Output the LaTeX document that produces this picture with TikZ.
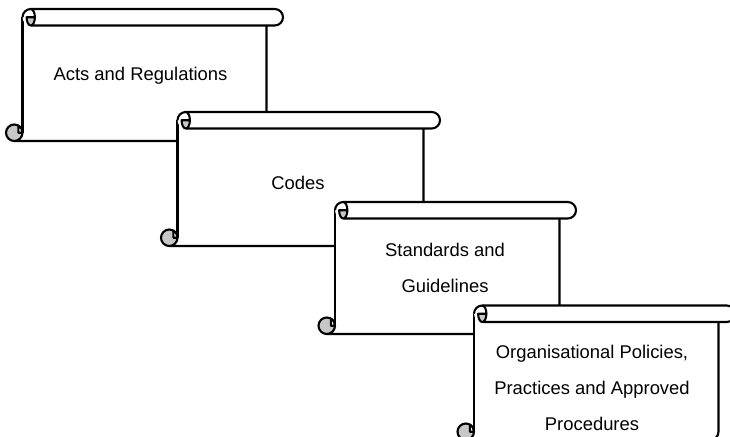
\documentclass[tikz,border=0pt]{standalone}
\usepackage{fontspec}
\setmainfont{Liberation Sans}
\usepackage{tikz}
\usetikzlibrary{positioning}

\def\rc{16.5}
\def\rh{8.25}
% one scroll: left, top, right, bottom (in pixels, top down)
\newcommand{\drawscroll}[4]{%
  \pgfmathsetmacro{\xl}{#1}
  \pgfmathsetmacro{\xa}{#1+\rc}
  \pgfmathsetmacro{\xb}{#3-\rc}
  \pgfmathsetmacro{\xr}{#3}
  \pgfmathsetmacro{\yt}{-(#2)}
  \pgfmathsetmacro{\ym}{-(#2)-\rh}
  \pgfmathsetmacro{\yr}{-(#2)-\rc}
  \pgfmathsetmacro{\yb}{-(#4)}
  \pgfmathsetmacro{\yc}{-(#4)+\rh}
  \fill[white] (\xa,\ym) rectangle (\xb,\yb);
  \draw[scrollline] (\xa,\ym) -- (\xa,\yc);
  \draw[scrollline] (\xl+\rh,\yb) -- (\xb-\rh,\yb) arc[start angle=-90,end angle=0,radius=\rh] -- (\xb,\yr);
  \fill[white] (\xa,\ym) arc[start angle=180,end angle=90,radius=\rh] -- (\xr-\rh,\yt)
    arc[start angle=90,end angle=-90,radius=\rh] -- (\xa+\rh,\yr) arc[start angle=-90,end angle=-180,radius=\rh];
  \draw[scrollline] (\xa,\ym) arc[start angle=180,end angle=90,radius=\rh] -- (\xr-\rh,\yt)
    arc[start angle=90,end angle=-90,radius=\rh] -- (\xa+\rh,\yr);
  \filldraw[scrollline, fill=curlgrey] (\xa+.5*\rh,\ym) arc[start angle=180,end angle=360,x radius=.5*\rh,y radius=\rh] -- cycle;
  \draw[scrollline] (\xa+1.5*\rh,\ym) arc[start angle=0,end angle=90,x radius=.5*\rh,y radius=\rh];
  \filldraw[scrollline, fill=curlgrey] (\xl+\rh,\yc) circle[radius=\rh];
  \filldraw[scrollline, fill=white] (\xa,\yc) -- (\xa-.5*\rh,\yc) -- ++(0,.866*\rh) arc[start angle=60,end angle=0,radius=\rh];
}

\colorlet{curlgrey}{black!22}

\begin{document}
\begin{tikzpicture}[x=1pt,y=1pt]
            \tikzstyle{scrollline} = [line width=2.1pt, line join=round]
            \tikzstyle{label} = [inner sep=0pt, align=center, font=\fontsize{18.4}{36}\selectfont]

            \useasboundingbox (0,0) rectangle (730,-436);
            \begin{scope}
            \clip (0,0) rectangle (730,-436);
            \drawscroll{6}{9}{283}{141}
            \drawscroll{161}{112}{440}{246}
            \drawscroll{318.5}{202}{576}{334}
            \drawscroll{457.5}{305.5}{735}{440}
            \end{scope}

            \node [label, anchor=base] (acts) at (140.5,-80) {Acts and Regulations};
            \node [label, anchor=base] (codes) at (298,-189) {Codes};
            \node [label, anchor=base] (standards) at (445,-292) {Standards and\\Guidelines};
            \node [label, anchor=base] (policies) at (592,-430) {Organisational Policies,\\Practices and Approved\\Procedures};
\end{tikzpicture}
\end{document}
